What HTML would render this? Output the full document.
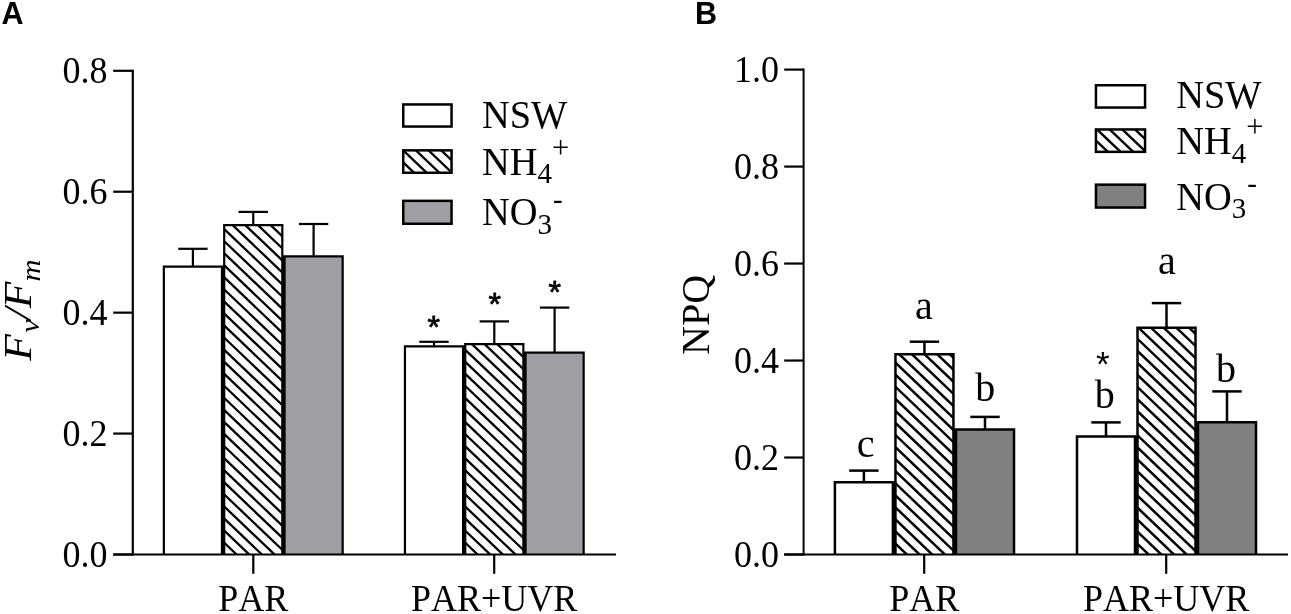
<!DOCTYPE html>
<html><head><meta charset="utf-8"><title>Figure</title>
<style>
html,body{margin:0;padding:0;background:#fff;overflow:hidden;}
svg{display:block;font-kerning:none;}
.se{font-family:"Liberation Serif",serif;fill:#000;font-kerning:none;}
.sa{font-family:"Liberation Sans",sans-serif;fill:#000;font-kerning:none;}
</style></head><body>
<svg width="1291" height="614" viewBox="0 0 1291 614">
<rect width="1291" height="614" fill="#fff"/>
<path d="M163.84 554.5V266.6H221.97V554.5" fill="#fff" stroke="#000" stroke-width="2.2"/>
<clipPath id="c1"><rect x="224.19" y="225.2" width="58.13" height="329.3"/></clipPath>
<rect x="224.19" y="225.2" width="58.13" height="329.3" fill="#fff"/>
<g clip-path="url(#c1)" stroke="#000" stroke-width="2.3">
<line x1="221.09" y1="165.87" x2="285.42" y2="227.18"/>
<line x1="221.09" y1="177.93" x2="285.42" y2="239.24"/>
<line x1="221.09" y1="189.99" x2="285.42" y2="251.3"/>
<line x1="221.09" y1="202.05" x2="285.42" y2="263.36"/>
<line x1="221.09" y1="214.11" x2="285.42" y2="275.42"/>
<line x1="221.09" y1="226.17" x2="285.42" y2="287.48"/>
<line x1="221.09" y1="238.23" x2="285.42" y2="299.54"/>
<line x1="221.09" y1="250.29" x2="285.42" y2="311.6"/>
<line x1="221.09" y1="262.35" x2="285.42" y2="323.66"/>
<line x1="221.09" y1="274.41" x2="285.42" y2="335.72"/>
<line x1="221.09" y1="286.47" x2="285.42" y2="347.78"/>
<line x1="221.09" y1="298.53" x2="285.42" y2="359.84"/>
<line x1="221.09" y1="310.59" x2="285.42" y2="371.9"/>
<line x1="221.09" y1="322.65" x2="285.42" y2="383.96"/>
<line x1="221.09" y1="334.71" x2="285.42" y2="396.02"/>
<line x1="221.09" y1="346.77" x2="285.42" y2="408.08"/>
<line x1="221.09" y1="358.83" x2="285.42" y2="420.14"/>
<line x1="221.09" y1="370.89" x2="285.42" y2="432.2"/>
<line x1="221.09" y1="382.95" x2="285.42" y2="444.26"/>
<line x1="221.09" y1="395.01" x2="285.42" y2="456.32"/>
<line x1="221.09" y1="407.07" x2="285.42" y2="468.38"/>
<line x1="221.09" y1="419.13" x2="285.42" y2="480.44"/>
<line x1="221.09" y1="431.19" x2="285.42" y2="492.5"/>
<line x1="221.09" y1="443.25" x2="285.42" y2="504.56"/>
<line x1="221.09" y1="455.31" x2="285.42" y2="516.62"/>
<line x1="221.09" y1="467.37" x2="285.42" y2="528.68"/>
<line x1="221.09" y1="479.43" x2="285.42" y2="540.74"/>
<line x1="221.09" y1="491.49" x2="285.42" y2="552.8"/>
<line x1="221.09" y1="503.55" x2="285.42" y2="564.86"/>
<line x1="221.09" y1="515.61" x2="285.42" y2="576.92"/>
<line x1="221.09" y1="527.67" x2="285.42" y2="588.98"/>
<line x1="221.09" y1="539.73" x2="285.42" y2="601.04"/>
<line x1="221.09" y1="551.79" x2="285.42" y2="613.1"/>
</g>
<path d="M224.19 554.5V225.2H282.31V554.5" fill="none" stroke="#000" stroke-width="2.2"/>
<path d="M284.54 554.5V256.4H342.67V554.5" fill="#9E9FA2" stroke="#000" stroke-width="2.2"/>
<path d="M404.94 554.5V346.3H463.06V554.5" fill="#fff" stroke="#000" stroke-width="2.2"/>
<clipPath id="c2"><rect x="465.24" y="344.2" width="58.13" height="210.3"/></clipPath>
<rect x="465.24" y="344.2" width="58.13" height="210.3" fill="#fff"/>
<g clip-path="url(#c2)" stroke="#000" stroke-width="2.3">
<line x1="462.13" y1="286.53" x2="526.47" y2="347.84"/>
<line x1="462.13" y1="298.59" x2="526.47" y2="359.9"/>
<line x1="462.13" y1="310.65" x2="526.47" y2="371.96"/>
<line x1="462.13" y1="322.71" x2="526.47" y2="384.02"/>
<line x1="462.13" y1="334.77" x2="526.47" y2="396.08"/>
<line x1="462.13" y1="346.83" x2="526.47" y2="408.14"/>
<line x1="462.13" y1="358.89" x2="526.47" y2="420.2"/>
<line x1="462.13" y1="370.95" x2="526.47" y2="432.26"/>
<line x1="462.13" y1="383.01" x2="526.47" y2="444.32"/>
<line x1="462.13" y1="395.07" x2="526.47" y2="456.38"/>
<line x1="462.13" y1="407.13" x2="526.47" y2="468.44"/>
<line x1="462.13" y1="419.19" x2="526.47" y2="480.5"/>
<line x1="462.13" y1="431.25" x2="526.47" y2="492.56"/>
<line x1="462.13" y1="443.31" x2="526.47" y2="504.62"/>
<line x1="462.13" y1="455.37" x2="526.47" y2="516.68"/>
<line x1="462.13" y1="467.43" x2="526.47" y2="528.74"/>
<line x1="462.13" y1="479.49" x2="526.47" y2="540.8"/>
<line x1="462.13" y1="491.55" x2="526.47" y2="552.86"/>
<line x1="462.13" y1="503.61" x2="526.47" y2="564.92"/>
<line x1="462.13" y1="515.67" x2="526.47" y2="576.98"/>
<line x1="462.13" y1="527.73" x2="526.47" y2="589.04"/>
<line x1="462.13" y1="539.79" x2="526.47" y2="601.1"/>
<line x1="462.13" y1="551.85" x2="526.47" y2="613.16"/>
</g>
<path d="M465.24 554.5V344.2H523.37V554.5" fill="none" stroke="#000" stroke-width="2.2"/>
<path d="M525.54 554.5V352.6H583.66V554.5" fill="#9E9FA2" stroke="#000" stroke-width="2.2"/>
<line x1="223.07" y1="265.8" x2="223.07" y2="554.5" stroke="#000" stroke-width="1.4" stroke-linecap="butt"/>
<line x1="283.43" y1="255.6" x2="283.43" y2="554.5" stroke="#000" stroke-width="1.4" stroke-linecap="butt"/>
<line x1="464.15" y1="345.5" x2="464.15" y2="554.5" stroke="#000" stroke-width="1.4" stroke-linecap="butt"/>
<line x1="524.45" y1="351.8" x2="524.45" y2="554.5" stroke="#000" stroke-width="1.4" stroke-linecap="butt"/>
<line x1="192.9" y1="248.8" x2="192.9" y2="266.5" stroke="#000" stroke-width="2.2" stroke-linecap="butt"/>
<line x1="178.2" y1="248.8" x2="207.6" y2="248.8" stroke="#000" stroke-width="2.2" stroke-linecap="butt"/>
<line x1="253.25" y1="211.9" x2="253.25" y2="225.1" stroke="#000" stroke-width="2.2" stroke-linecap="butt"/>
<line x1="238.55" y1="211.9" x2="267.95" y2="211.9" stroke="#000" stroke-width="2.2" stroke-linecap="butt"/>
<line x1="313.6" y1="224" x2="313.6" y2="256.3" stroke="#000" stroke-width="2.2" stroke-linecap="butt"/>
<line x1="298.9" y1="224" x2="328.3" y2="224" stroke="#000" stroke-width="2.2" stroke-linecap="butt"/>
<line x1="434" y1="341.8" x2="434" y2="346.2" stroke="#000" stroke-width="2.2" stroke-linecap="butt"/>
<line x1="419.3" y1="341.8" x2="448.7" y2="341.8" stroke="#000" stroke-width="2.2" stroke-linecap="butt"/>
<line x1="494.3" y1="321.4" x2="494.3" y2="344.1" stroke="#000" stroke-width="2.2" stroke-linecap="butt"/>
<line x1="479.6" y1="321.4" x2="509" y2="321.4" stroke="#000" stroke-width="2.2" stroke-linecap="butt"/>
<line x1="554.6" y1="307.6" x2="554.6" y2="352.5" stroke="#000" stroke-width="2.2" stroke-linecap="butt"/>
<line x1="539.9" y1="307.6" x2="569.3" y2="307.6" stroke="#000" stroke-width="2.2" stroke-linecap="butt"/>
<line x1="132.8" y1="69.7" x2="132.8" y2="555.6" stroke="#000" stroke-width="2.2" stroke-linecap="butt"/>
<line x1="113.2" y1="554.5" x2="616" y2="554.5" stroke="#000" stroke-width="2.2" stroke-linecap="butt"/>
<line x1="113.2" y1="554.5" x2="132.8" y2="554.5" stroke="#000" stroke-width="2.2" stroke-linecap="butt"/>
<text class="se" transform="translate(107.5,566.68) scale(1,1.05)" font-size="36" text-anchor="end">0.0</text>
<line x1="113.2" y1="433.57" x2="132.8" y2="433.57" stroke="#000" stroke-width="2.2" stroke-linecap="butt"/>
<text class="se" transform="translate(107.5,445.75) scale(1,1.05)" font-size="36" text-anchor="end">0.2</text>
<line x1="113.2" y1="312.65" x2="132.8" y2="312.65" stroke="#000" stroke-width="2.2" stroke-linecap="butt"/>
<text class="se" transform="translate(107.5,324.83) scale(1,1.05)" font-size="36" text-anchor="end">0.4</text>
<line x1="113.2" y1="191.73" x2="132.8" y2="191.73" stroke="#000" stroke-width="2.2" stroke-linecap="butt"/>
<text class="se" transform="translate(107.5,203.9) scale(1,1.05)" font-size="36" text-anchor="end">0.6</text>
<line x1="113.2" y1="70.8" x2="132.8" y2="70.8" stroke="#000" stroke-width="2.2" stroke-linecap="butt"/>
<text class="se" transform="translate(107.5,82.98) scale(1,1.05)" font-size="36" text-anchor="end">0.8</text>
<line x1="253.3" y1="554.5" x2="253.3" y2="573.8" stroke="#000" stroke-width="2.2" stroke-linecap="butt"/>
<text class="se" transform="translate(253.3,611.2) scale(1,1.05)" font-size="36" text-anchor="middle">PAR</text>
<line x1="494.2" y1="554.5" x2="494.2" y2="573.8" stroke="#000" stroke-width="2.2" stroke-linecap="butt"/>
<text class="se" transform="translate(494.2,611.2) scale(1,1.05)" font-size="36" text-anchor="middle">PAR+UVR</text>
<text class="sa" x="433.8" y="338" font-size="32" text-anchor="middle" stroke="#000" stroke-width="0.8" stroke-linejoin="round">*</text>
<text class="sa" x="494.7" y="314.9" font-size="32" text-anchor="middle" stroke="#000" stroke-width="0.8" stroke-linejoin="round">*</text>
<text class="sa" x="554.8" y="303" font-size="32" text-anchor="middle" stroke="#000" stroke-width="0.8" stroke-linejoin="round">*</text>
<rect x="403.25" y="104.45" width="48.3" height="22.1" fill="#fff" stroke="#000" stroke-width="2.5"/>
<clipPath id="c3"><rect x="403.25" y="150.35" width="48.3" height="22.4"/></clipPath>
<g clip-path="url(#c3)" stroke="#000" stroke-width="2.3">
<line x1="400" y1="99.05" x2="454.8" y2="151.27"/>
<line x1="400" y1="111.11" x2="454.8" y2="163.33"/>
<line x1="400" y1="123.17" x2="454.8" y2="175.39"/>
<line x1="400" y1="135.23" x2="454.8" y2="187.45"/>
<line x1="400" y1="147.29" x2="454.8" y2="199.51"/>
<line x1="400" y1="159.35" x2="454.8" y2="211.57"/>
<line x1="400" y1="171.41" x2="454.8" y2="223.63"/>
</g>
<rect x="403.25" y="150.35" width="48.3" height="22.4" fill="none" stroke="#000" stroke-width="2.5"/>
<rect x="403.25" y="200.85" width="48.3" height="22.9" fill="#9E9FA2" stroke="#000" stroke-width="2.5"/>
<text class="se" transform="translate(482,127.6) scale(1,1.05)" font-size="38.4" text-anchor="start">NSW</text>
<text class="se" transform="translate(482,174.8) scale(1,1.05)" font-size="38.4" text-anchor="start">NH<tspan font-size="29" dy="8">4</tspan><tspan font-size="30.5" dy="-24.1">+</tspan></text>
<text class="se" transform="translate(482,225) scale(1,1.05)" font-size="38.4" text-anchor="start">NO<tspan font-size="29" dy="8.1">3</tspan><tspan dx="1" font-size="29" dy="-23.81">-</tspan></text>
<text class="se" transform="translate(31,360.8) rotate(-90) scale(1.09,1)" font-size="40" font-style="italic">F<tspan font-size="28" dx="1.24" dy="8">v</tspan><tspan dx="-0.7" dy="-8">/</tspan><tspan dx="-0.4">F</tspan><tspan font-size="28" dx="0.15" dy="8.6">m</tspan></text>
<text class="sa" x="1.45" y="24.2" font-size="30.5" text-anchor="start" font-weight="bold">A</text>
<path d="M834.9 554.5V482.25H892.9V554.5" fill="#fff" stroke="#000" stroke-width="2.5"/>
<clipPath id="c4"><rect x="895.45" y="354.35" width="58" height="200.15"/></clipPath>
<rect x="895.45" y="354.35" width="58" height="200.15" fill="#fff"/>
<g clip-path="url(#c4)" stroke="#000" stroke-width="2.5">
<line x1="892.2" y1="287.23" x2="956.7" y2="348.7"/>
<line x1="892.2" y1="299.29" x2="956.7" y2="360.76"/>
<line x1="892.2" y1="311.35" x2="956.7" y2="372.82"/>
<line x1="892.2" y1="323.41" x2="956.7" y2="384.88"/>
<line x1="892.2" y1="335.47" x2="956.7" y2="396.94"/>
<line x1="892.2" y1="347.53" x2="956.7" y2="409"/>
<line x1="892.2" y1="359.59" x2="956.7" y2="421.06"/>
<line x1="892.2" y1="371.65" x2="956.7" y2="433.12"/>
<line x1="892.2" y1="383.71" x2="956.7" y2="445.18"/>
<line x1="892.2" y1="395.77" x2="956.7" y2="457.24"/>
<line x1="892.2" y1="407.83" x2="956.7" y2="469.3"/>
<line x1="892.2" y1="419.89" x2="956.7" y2="481.36"/>
<line x1="892.2" y1="431.95" x2="956.7" y2="493.42"/>
<line x1="892.2" y1="444.01" x2="956.7" y2="505.48"/>
<line x1="892.2" y1="456.07" x2="956.7" y2="517.54"/>
<line x1="892.2" y1="468.13" x2="956.7" y2="529.6"/>
<line x1="892.2" y1="480.19" x2="956.7" y2="541.66"/>
<line x1="892.2" y1="492.25" x2="956.7" y2="553.72"/>
<line x1="892.2" y1="504.31" x2="956.7" y2="565.78"/>
<line x1="892.2" y1="516.37" x2="956.7" y2="577.84"/>
<line x1="892.2" y1="528.43" x2="956.7" y2="589.9"/>
<line x1="892.2" y1="540.49" x2="956.7" y2="601.96"/>
<line x1="892.2" y1="552.55" x2="956.7" y2="614.02"/>
</g>
<path d="M895.45 554.5V354.35H953.45V554.5" fill="none" stroke="#000" stroke-width="2.5"/>
<path d="M956 554.5V429.55H1014V554.5" fill="#808080" stroke="#000" stroke-width="2.5"/>
<path d="M1077 554.5V436.55H1135V554.5" fill="#fff" stroke="#000" stroke-width="2.5"/>
<clipPath id="c5"><rect x="1137.5" y="327.65" width="58" height="226.85"/></clipPath>
<rect x="1137.5" y="327.65" width="58" height="226.85" fill="#fff"/>
<g clip-path="url(#c5)" stroke="#000" stroke-width="2.5">
<line x1="1134.25" y1="263.41" x2="1198.75" y2="324.88"/>
<line x1="1134.25" y1="275.47" x2="1198.75" y2="336.94"/>
<line x1="1134.25" y1="287.53" x2="1198.75" y2="349"/>
<line x1="1134.25" y1="299.59" x2="1198.75" y2="361.06"/>
<line x1="1134.25" y1="311.65" x2="1198.75" y2="373.12"/>
<line x1="1134.25" y1="323.71" x2="1198.75" y2="385.18"/>
<line x1="1134.25" y1="335.77" x2="1198.75" y2="397.24"/>
<line x1="1134.25" y1="347.83" x2="1198.75" y2="409.3"/>
<line x1="1134.25" y1="359.89" x2="1198.75" y2="421.36"/>
<line x1="1134.25" y1="371.95" x2="1198.75" y2="433.42"/>
<line x1="1134.25" y1="384.01" x2="1198.75" y2="445.48"/>
<line x1="1134.25" y1="396.07" x2="1198.75" y2="457.54"/>
<line x1="1134.25" y1="408.13" x2="1198.75" y2="469.6"/>
<line x1="1134.25" y1="420.19" x2="1198.75" y2="481.66"/>
<line x1="1134.25" y1="432.25" x2="1198.75" y2="493.72"/>
<line x1="1134.25" y1="444.31" x2="1198.75" y2="505.78"/>
<line x1="1134.25" y1="456.37" x2="1198.75" y2="517.84"/>
<line x1="1134.25" y1="468.43" x2="1198.75" y2="529.9"/>
<line x1="1134.25" y1="480.49" x2="1198.75" y2="541.96"/>
<line x1="1134.25" y1="492.55" x2="1198.75" y2="554.02"/>
<line x1="1134.25" y1="504.61" x2="1198.75" y2="566.08"/>
<line x1="1134.25" y1="516.67" x2="1198.75" y2="578.14"/>
<line x1="1134.25" y1="528.73" x2="1198.75" y2="590.2"/>
<line x1="1134.25" y1="540.79" x2="1198.75" y2="602.26"/>
<line x1="1134.25" y1="552.85" x2="1198.75" y2="614.32"/>
</g>
<path d="M1137.5 554.5V327.65H1195.5V554.5" fill="none" stroke="#000" stroke-width="2.5"/>
<path d="M1198 554.5V422.25H1256V554.5" fill="#808080" stroke="#000" stroke-width="2.5"/>
<line x1="894.17" y1="481.3" x2="894.17" y2="554.5" stroke="#000" stroke-width="1.4" stroke-linecap="butt"/>
<line x1="954.73" y1="428.6" x2="954.73" y2="554.5" stroke="#000" stroke-width="1.4" stroke-linecap="butt"/>
<line x1="1136.25" y1="435.6" x2="1136.25" y2="554.5" stroke="#000" stroke-width="1.4" stroke-linecap="butt"/>
<line x1="1196.75" y1="421.3" x2="1196.75" y2="554.5" stroke="#000" stroke-width="1.4" stroke-linecap="butt"/>
<line x1="863.9" y1="470.6" x2="863.9" y2="482" stroke="#000" stroke-width="2.5" stroke-linecap="butt"/>
<line x1="849.2" y1="470.6" x2="878.6" y2="470.6" stroke="#000" stroke-width="2.5" stroke-linecap="butt"/>
<line x1="924.45" y1="341.7" x2="924.45" y2="354.1" stroke="#000" stroke-width="2.5" stroke-linecap="butt"/>
<line x1="909.75" y1="341.7" x2="939.15" y2="341.7" stroke="#000" stroke-width="2.5" stroke-linecap="butt"/>
<line x1="985" y1="416.9" x2="985" y2="429.3" stroke="#000" stroke-width="2.5" stroke-linecap="butt"/>
<line x1="970.3" y1="416.9" x2="999.7" y2="416.9" stroke="#000" stroke-width="2.5" stroke-linecap="butt"/>
<line x1="1106" y1="422.4" x2="1106" y2="436.3" stroke="#000" stroke-width="2.5" stroke-linecap="butt"/>
<line x1="1091.3" y1="422.4" x2="1120.7" y2="422.4" stroke="#000" stroke-width="2.5" stroke-linecap="butt"/>
<line x1="1166.5" y1="303.1" x2="1166.5" y2="327.4" stroke="#000" stroke-width="2.5" stroke-linecap="butt"/>
<line x1="1151.8" y1="303.1" x2="1181.2" y2="303.1" stroke="#000" stroke-width="2.5" stroke-linecap="butt"/>
<line x1="1227" y1="391.4" x2="1227" y2="422" stroke="#000" stroke-width="2.5" stroke-linecap="butt"/>
<line x1="1212.3" y1="391.4" x2="1241.7" y2="391.4" stroke="#000" stroke-width="2.5" stroke-linecap="butt"/>
<line x1="803.6" y1="68.5" x2="803.6" y2="555.5" stroke="#000" stroke-width="2.0" stroke-linecap="butt"/>
<line x1="784.2" y1="554.5" x2="1288" y2="554.5" stroke="#000" stroke-width="2.0" stroke-linecap="butt"/>
<line x1="784.2" y1="554.5" x2="803.6" y2="554.5" stroke="#000" stroke-width="2.2" stroke-linecap="butt"/>
<text class="se" transform="translate(779,566.68) scale(1,1.05)" font-size="36" text-anchor="end">0.0</text>
<line x1="784.2" y1="457.52" x2="803.6" y2="457.52" stroke="#000" stroke-width="2.2" stroke-linecap="butt"/>
<text class="se" transform="translate(779,469.7) scale(1,1.05)" font-size="36" text-anchor="end">0.2</text>
<line x1="784.2" y1="360.54" x2="803.6" y2="360.54" stroke="#000" stroke-width="2.2" stroke-linecap="butt"/>
<text class="se" transform="translate(779,372.72) scale(1,1.05)" font-size="36" text-anchor="end">0.4</text>
<line x1="784.2" y1="263.56" x2="803.6" y2="263.56" stroke="#000" stroke-width="2.2" stroke-linecap="butt"/>
<text class="se" transform="translate(779,275.74) scale(1,1.05)" font-size="36" text-anchor="end">0.6</text>
<line x1="784.2" y1="166.58" x2="803.6" y2="166.58" stroke="#000" stroke-width="2.2" stroke-linecap="butt"/>
<text class="se" transform="translate(779,178.76) scale(1,1.05)" font-size="36" text-anchor="end">0.8</text>
<line x1="784.2" y1="69.6" x2="803.6" y2="69.6" stroke="#000" stroke-width="2.2" stroke-linecap="butt"/>
<text class="se" transform="translate(779,81.78) scale(1,1.05)" font-size="36" text-anchor="end">1.0</text>
<line x1="924.2" y1="554.5" x2="924.2" y2="573.8" stroke="#000" stroke-width="2.2" stroke-linecap="butt"/>
<text class="se" transform="translate(924.2,611.4) scale(1,1.05)" font-size="36" text-anchor="middle">PAR</text>
<line x1="1166.2" y1="554.5" x2="1166.2" y2="573.8" stroke="#000" stroke-width="2.2" stroke-linecap="butt"/>
<text class="se" transform="translate(1166.2,611.4) scale(1,1.05)" font-size="36" text-anchor="middle">PAR+UVR</text>
<text class="se" x="865.6" y="457.4" font-size="40" text-anchor="middle">c</text>
<text class="se" x="923.9" y="318.9" font-size="40" text-anchor="middle">a</text>
<text class="se" x="985.2" y="401.4" font-size="40" text-anchor="middle">b</text>
<text class="se" x="1104.7" y="408.1" font-size="40" text-anchor="middle">b</text>
<text class="se" x="1166.9" y="274" font-size="40" text-anchor="middle">a</text>
<text class="se" x="1226.1" y="381.6" font-size="40" text-anchor="middle">b</text>
<text class="sa" x="1102.7" y="375.64" font-size="35" text-anchor="middle">*</text>
<rect x="1095.95" y="85.25" width="49.1" height="22.3" fill="#fff" stroke="#000" stroke-width="2.5"/>
<clipPath id="c6"><rect x="1095.95" y="129.45" width="49.1" height="22.4"/></clipPath>
<g clip-path="url(#c6)" stroke="#000" stroke-width="2.4">
<line x1="1092.7" y1="77.06" x2="1148.3" y2="130.05"/>
<line x1="1092.7" y1="89.12" x2="1148.3" y2="142.11"/>
<line x1="1092.7" y1="101.18" x2="1148.3" y2="154.17"/>
<line x1="1092.7" y1="113.24" x2="1148.3" y2="166.23"/>
<line x1="1092.7" y1="125.3" x2="1148.3" y2="178.29"/>
<line x1="1092.7" y1="137.36" x2="1148.3" y2="190.35"/>
<line x1="1092.7" y1="149.42" x2="1148.3" y2="202.41"/>
</g>
<rect x="1095.95" y="129.45" width="49.1" height="22.4" fill="none" stroke="#000" stroke-width="2.5"/>
<rect x="1095.95" y="184.65" width="49.1" height="22.9" fill="#808080" stroke="#000" stroke-width="2.5"/>
<text class="se" transform="translate(1176.3,108.3) scale(1,1.05)" font-size="38.4" text-anchor="start">NSW</text>
<text class="se" transform="translate(1176.3,154.2) scale(1,1.05)" font-size="38.4" text-anchor="start">NH<tspan font-size="29" dy="8">4</tspan><tspan font-size="30.5" dy="-24.1">+</tspan></text>
<text class="se" transform="translate(1176.3,209.5) scale(1,1.05)" font-size="38.4" text-anchor="start">NO<tspan font-size="29" dy="8.1">3</tspan><tspan dx="1" font-size="29" dy="-23.81">-</tspan></text>
<text class="se" transform="translate(709,354.9) rotate(-90)" font-size="40">NPQ</text>
<text class="sa" x="695.1" y="24.2" font-size="30.5" text-anchor="start" font-weight="bold">B</text>
</svg></body></html>
